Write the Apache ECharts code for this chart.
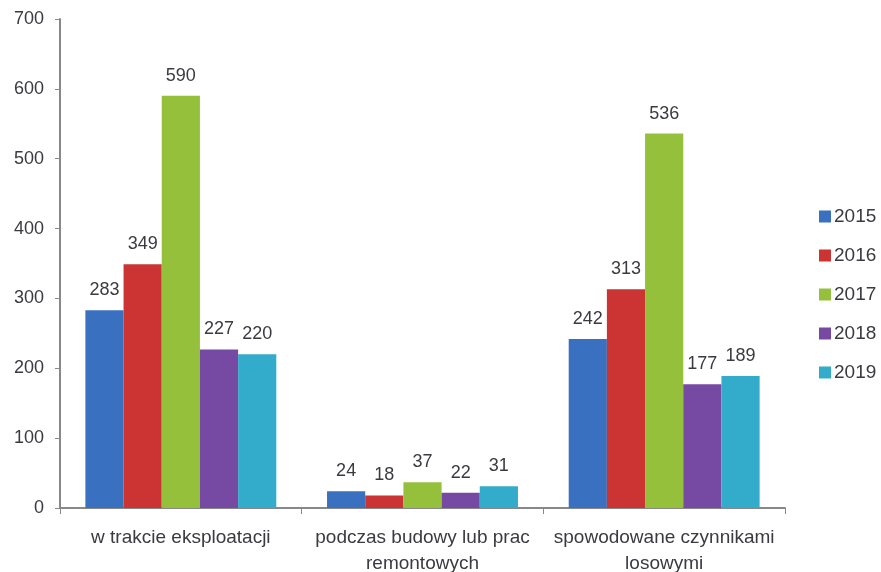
<!DOCTYPE html>
<html>
<head>
<meta charset="utf-8">
<script src="https://cdn.jsdelivr.net/npm/echarts@6/dist/echarts.min.js"></script>
<style>
  html, body { margin: 0; padding: 0; background: #fff; }
  #chart { width: 881px; height: 572px; }
</style>
</head>
<body>
<div id="chart"></div>
<script>
// Categories of incidents and yearly counts
var categories = ['w trakcie eksploatacji', 'podczas budowy lub prac\nremontowych', 'spowodowane czynnikami\nlosowymi'];
var years = ['2015', '2016', '2017', '2018', '2019'];
var v2015 = [283, 24, 242];
var v2016 = [349, 18, 313];
var v2017 = [590, 37, 536];
var v2018 = [227, 22, 177];
var v2019 = [220, 31, 189];
var yTicks = [0, 100, 200, 300, 400, 500, 600, 700];

var values = [v2015, v2016, v2017, v2018, v2019];
var colors = ['#3A70C0', '#CC3333', '#94C03C', '#7649A2', '#33ABCB'];
var font = 'Liberation Sans, Arial, sans-serif';
var textColor = '#3a3a40';

var chart = echarts.init(document.getElementById('chart'));
chart.setOption({
  animation: false,
  color: colors,
  textStyle: { fontFamily: font },
  grid: { left: 60, right: 96, top: 19, bottom: 64, containLabel: false, outerBoundsMode: 'none' },
  legend: {
    orient: 'vertical',
    left: 814,
    top: 202,
    itemWidth: 12,
    itemHeight: 12,
    itemGap: 20,
    icon: 'rect',
    textStyle: { fontSize: 19, color: textColor, fontFamily: font, padding: [0, 0, 0, -2] },
    data: years
  },
  xAxis: {
    type: 'category',
    data: categories,
    axisLine: { lineStyle: { color: '#888', width: 2 } },
    axisTick: { show: true, inside: false, length: 6, lineStyle: { color: '#888' } },
    axisLabel: { interval: 0, hideOverlap: false, fontSize: 19, color: textColor, lineHeight: 26, margin: 17, fontFamily: font }
  },
  yAxis: {
    type: 'value',
    min: yTicks[0],
    max: yTicks[yTicks.length - 1],
    interval: 100,
    splitLine: { show: false },
    axisLine: { show: true, lineStyle: { color: '#888', width: 2 } },
    axisTick: { show: true, length: 5, lineStyle: { color: '#888' } },
    axisLabel: { fontSize: 18, color: textColor, margin: 16, fontFamily: font }
  },
  series: years.map(function (y, i) {
    return {
      name: y,
      type: 'bar',
      data: values[i],
      barGap: '0%',
      barCategoryGap: '21%',
      label: {
        show: true,
        position: 'top',
        distance: 11,
        fontSize: 18,
        color: textColor,
        fontFamily: font
      }
    };
  })
});
</script>
</body>
</html>
